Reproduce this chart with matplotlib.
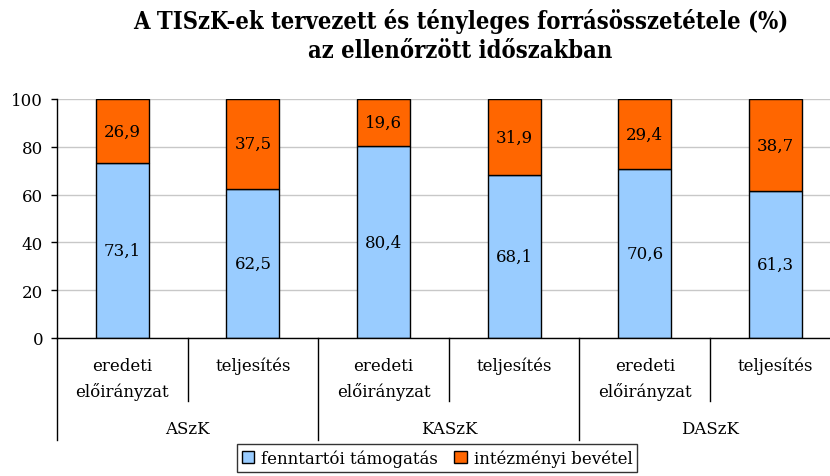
import matplotlib
matplotlib.use("Agg")
import matplotlib.pyplot as plt
import matplotlib.transforms as mtransforms
from matplotlib.patches import Patch

categories = ["eredeti\nelőirányzat", "teljesítés", "eredeti\nelőirányzat", "teljesítés", "eredeti\nelőirányzat", "teljesítés"]
groups = ["ASzK", "KASzK", "DASzK"]
fenntartoi = [73.1, 62.5, 80.4, 68.1, 70.6, 61.3]
intezmenyi = [26.9, 37.5, 19.6, 31.9, 29.4, 38.7]
series_names = ["fenntartói támogatás", "intézményi bevétel"]
yticks = [0, 20, 40, 60, 80, 100]
title = "A TISzK-ek tervezett és tényleges forrásösszetétele (%)\naz ellenőrzött időszakban"

blue = "#99CCFF"
orange = "#FF6600"
font = "DejaVu Serif"
plt.rcParams['font.family'] = [font]

fig = plt.figure(figsize=(8.30, 4.77), dpi=100)
W, H = 830, 477
left_px, right_px = 57, 840.6
top_px, bot_px = 100, 339
ax = fig.add_axes([left_px / W, 1 - bot_px / H, (right_px - left_px) / W, (bot_px - top_px) / H])

x = list(range(len(categories)))
bw = 0.405
ax.bar(x, fenntartoi, width=bw, color=blue, edgecolor="black", linewidth=1.0, zorder=3)
ax.bar(x, intezmenyi, width=bw, bottom=fenntartoi, color=orange, edgecolor="black", linewidth=1.0, zorder=3)

def fmt(v):
    return f"{v:.1f}".replace(".", ",")

for i in x:
    ax.text(i, fenntartoi[i] / 2, fmt(fenntartoi[i]), ha="center", va="center", fontsize=12, zorder=4)
    ax.text(i, fenntartoi[i] + intezmenyi[i] / 2, fmt(intezmenyi[i]), ha="center", va="center", fontsize=12, zorder=4)

ax.set_xlim(-0.5, len(categories) - 0.5)
ax.set_ylim(0, 100)
ax.set_yticks(yticks)
ax.set_yticklabels([str(t) for t in yticks], fontsize=12)
ax.tick_params(axis="y", length=4, width=1, pad=6, direction="out")
ax.set_xticks([])
ax.yaxis.grid(True, color="#C8C8C8", linewidth=1.0, zorder=0)
ax.set_axisbelow(True)
for s in ["top", "right"]:
    ax.spines[s].set_visible(False)
ax.spines["left"].set_linewidth(1.0)
ax.spines["bottom"].set_linewidth(1.0)
ax.spines["bottom"].set_zorder(5)

trans = mtransforms.blended_transform_factory(ax.transData, ax.transAxes)
axh = bot_px - top_px

def ypx(p):
    # pixel below axis bottom -> axes fraction
    return -(p - bot_px) / axh

# category labels
for i, lab in enumerate(categories):
    ax.text(i, ypx(358), lab, transform=trans, ha="center", va="top", fontsize=12, linespacing=1.6)

# group labels
for g, name in enumerate(groups):
    ax.text(2 * g + 0.5, ypx(430), name, transform=trans, ha="center", va="center", fontsize=12)

# divider lines
for b in [0.5, 2.5, 4.5]:
    ax.plot([b, b], [0, ypx(402)], transform=trans, color="black", linewidth=1.0, clip_on=False)
for b in [-0.5, 1.5, 3.5, 5.5]:
    ax.plot([b, b], [0, ypx(441)], transform=trans, color="black", linewidth=1.0, clip_on=False)

fig.text(0.555, 1 - 9 / H, title, ha="center", va="top", fontsize=17, fontweight="bold",
         fontstretch="condensed", linespacing=1.25, family="DejaVu Serif")

handles = [Patch(facecolor=blue, edgecolor="black", linewidth=1.0),
           Patch(facecolor=orange, edgecolor="black", linewidth=1.0)]
leg = fig.legend(handles, series_names, loc="upper center", bbox_to_anchor=(437 / W, 1 - 445 / H),
                 ncol=2, frameon=True, fancybox=False, fontsize=12, handlelength=0.75, handleheight=0.75,
                 handletextpad=0.4, columnspacing=1.0, borderpad=0.3, borderaxespad=0)
leg.get_frame().set_edgecolor("black")
leg.get_frame().set_linewidth(1.0)

fig.savefig("out.png", dpi=100)
